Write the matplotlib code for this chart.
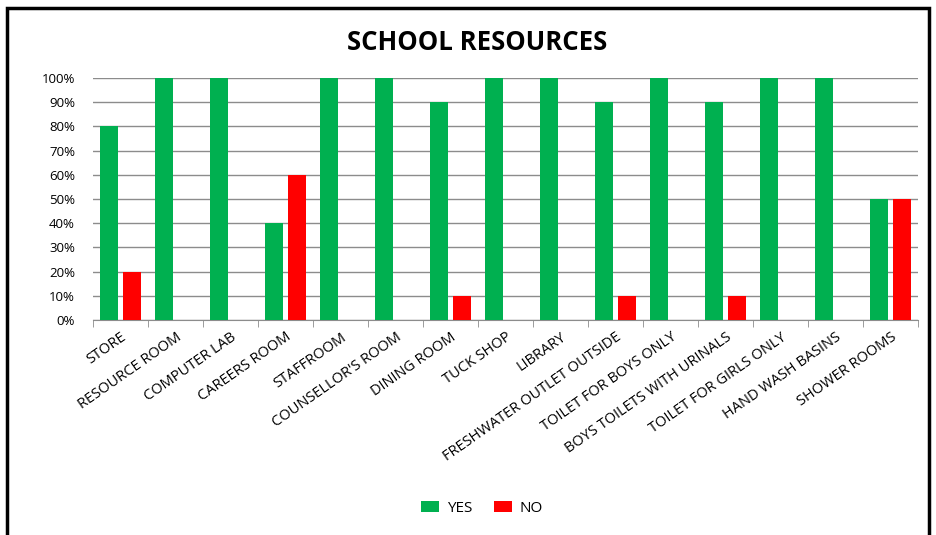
import numpy as np
import matplotlib.pyplot as plt
from matplotlib.patches import Rectangle

# School resources survey: share of schools answering YES / NO
recursos = ['STORE', 'RESOURCE ROOM', 'COMPUTER LAB', 'CAREERS ROOM', 'STAFFROOM',
            "COUNSELLOR'S ROOM", 'DINING ROOM', 'TUCK SHOP', 'LIBRARY',
            'FRESHWATER OUTLET OUTSIDE', 'TOILET FOR BOYS ONLY',
            'BOYS TOILETS WITH URINALS', 'TOILET FOR GIRLS ONLY',
            'HAND WASH BASINS', 'SHOWER ROOMS']
si = [80, 100, 100, 40, 100, 100, 90, 100, 100, 90, 100, 90, 100, 100, 50]
no = [20, 0, 0, 60, 0, 0, 10, 0, 0, 10, 0, 10, 0, 0, 50]
etiquetas_y = ['0%', '10%', '20%', '30%', '40%', '50%', '60%', '70%', '80%', '90%', '100%']

plt.rcParams['font.family'] = ['Open Sans', 'DejaVu Sans']

fig = plt.figure(figsize=(9.36, 5.35), dpi=100)
ax = fig.add_axes([0.0994, 0.4019, 0.8814, 0.4523])

x = np.arange(len(recursos))
ancho = 0.33
ax.bar(x - 0.21, si, ancho, color='#00B050', label='YES', zorder=3)
ax.bar(x + 0.21, no, ancho, color='#FF0000', label='NO', zorder=3)

ax.set_xlim(-0.5, len(recursos) - 0.5)
ax.set_ylim(0, 100)
ax.set_yticks(np.arange(0, 101, 10))
ax.set_yticklabels(etiquetas_y, fontsize=9.5)
ax.grid(axis='y', color='#8c8c8c', linewidth=1, zorder=0)

ax.set_xticks(x)
ax.set_xticklabels(recursos, rotation=35, ha='right', rotation_mode='anchor', fontsize=10.5)
ax.tick_params(axis='x', length=0, pad=7)
ax.set_xticks(np.arange(-0.5, len(recursos)), minor=True)
ax.tick_params(axis='x', which='minor', length=5, color='#8c8c8c')
ax.tick_params(axis='y', length=0, pad=13)

for lado in ['top', 'right', 'left']:
    ax.spines[lado].set_visible(False)
ax.spines['bottom'].set_color('#8c8c8c')

fig.text(0.51, 0.92, 'SCHOOL RESOURCES', ha='center', va='center',
         fontsize=18.5, fontweight='bold')

fig.legend(loc='center', bbox_to_anchor=(0.515, 0.05), ncol=2, frameon=False,
           fontsize=11, handlelength=1.2, handleheight=0.8, columnspacing=1.4,
           handletextpad=0.5)

# Marco negro alrededor del grafico
fig.patches.append(Rectangle((0.008, -0.05), 0.984, 1.035, transform=fig.transFigure,
                             fill=False, edgecolor='black', linewidth=2.5))

fig.savefig('out.png', dpi=100)
